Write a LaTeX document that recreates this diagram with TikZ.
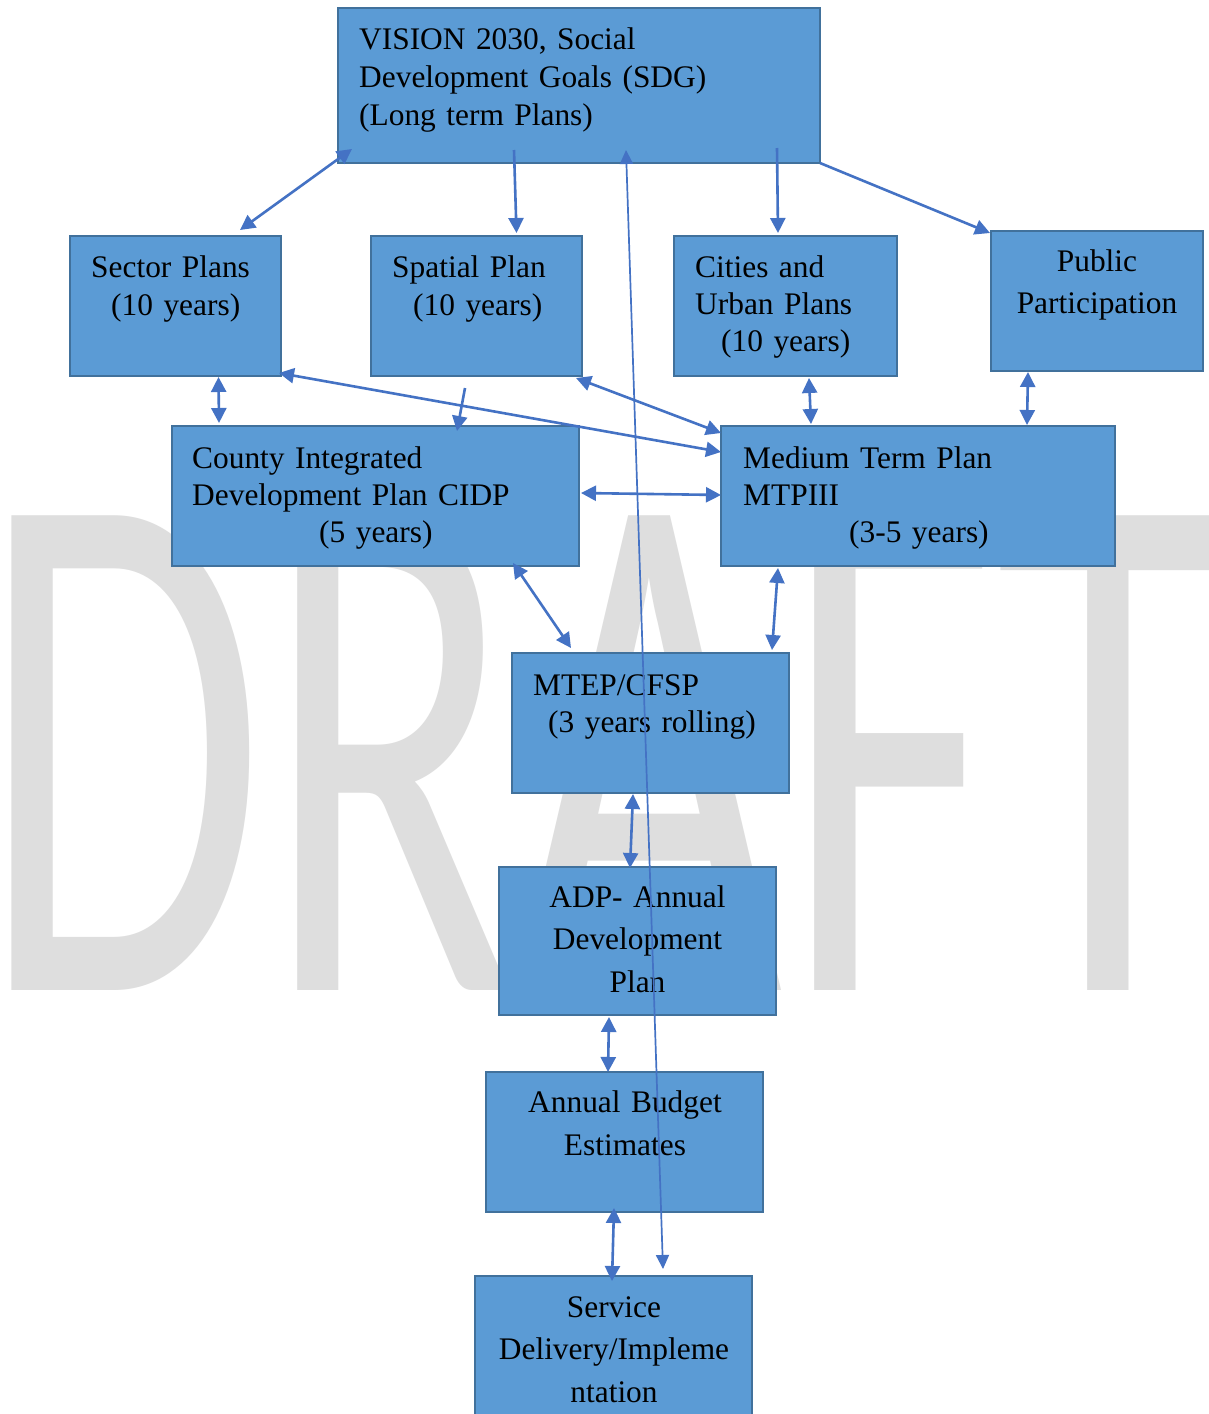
\documentclass[tikz,border=0pt]{standalone}
\usepackage{fontspec}
\setmainfont{Liberation Serif}
\newfontfamily\wmfont{Carlito}
\usetikzlibrary{arrows.meta,calc}
\definecolor{boxfill}{HTML}{5B9BD5}
\definecolor{boxedge}{HTML}{41719C}
\definecolor{arrowc}{HTML}{4472C4}
\definecolor{wmgray}{HTML}{DEDEDE}
\tikzset{
  box/.style={draw=boxedge, fill=boxfill, line width=2pt, inner sep=0pt, outer sep=0pt},
  ltxt/.style={inner sep=0pt, anchor=base west, align=left, text width=#1, font=\fontsize{31.4}{38}\selectfont},
  ctxt/.style={inner sep=0pt, anchor=base, align=center, text width=#1, font=\fontsize{31.4}{38}\selectfont},
  conn/.style={draw=arrowc, line width=2.6pt, -{Triangle[length=15pt,width=15pt]}},
  dconn/.style={draw=arrowc, line width=2.6pt, {Triangle[length=15pt,width=15pt]}-{Triangle[length=15pt,width=15pt]}},
  longconn/.style={draw=arrowc, line width=1.7pt, {Triangle[length=14pt,width=13pt]}-{Triangle[length=14pt,width=13pt]}}
}
\begin{document}
\begin{tikzpicture}[x=1pt,y=-1pt]
\useasboundingbox (0,0) rectangle (1209,1414);
\clip (0,0) rectangle (1209,1414);
\fill[white] (0,0) rectangle (1209,1414);
% watermark
\node[anchor=base west, inner sep=0pt, text=wmgray, font=\wmfont\fontsize{740}{740}\selectfont] (draft) at (-20,990) {\scalebox{0.625}[1]{DRAFT}};
% boxes
\node[box, minimum width=482pt, minimum height=155pt] (vision) at (579,85.5) {};
\node[box, minimum width=211pt, minimum height=140pt] (sector) at (175.5,306) {};
\node[box, minimum width=211pt, minimum height=140pt] (spatial) at (476.5,306) {};
\node[box, minimum width=223pt, minimum height=140pt] (cities) at (785.5,306) {};
\node[box, minimum width=212pt, minimum height=140pt] (public) at (1097,301) {};
\node[box, minimum width=407pt, minimum height=140pt] (cidp) at (375.5,496) {};
\node[box, minimum width=394pt, minimum height=140pt] (mtp) at (918,496) {};
\node[box, minimum width=277pt, minimum height=140pt] (mtep) at (650.5,723) {};
\node[box, minimum width=277pt, minimum height=148pt] (adp) at (637.5,941) {};
\node[box, minimum width=277pt, minimum height=140pt] (budget) at (624.5,1142) {};
\node[box, minimum width=277pt, minimum height=140pt] (service) at (613.5,1346) {};
% texts
\node[ltxt=440pt] (vision-t) at (359,49) {VISION 2030, Social\\Development Goals (SDG)\\(Long term Plans)};
\node[ltxt=190pt] (sector-t) at (91,277) {Sector Plans\\\hspace*{20pt}(10 years)};
\node[ltxt=190pt] (spatial-t) at (392,277) {Spatial Plan\\\hspace*{21pt}(10 years)};
\node[ltxt=200pt, font=\fontsize{31.4}{37}\selectfont] (cities-t) at (695,277) {Cities and\\Urban Plans\\\hspace*{26pt}(10 years)};
\node[ctxt=200pt, font=\fontsize{31.4}{42}\selectfont] (public-t) at (1097,271) {Public\\Participation};
\node[ltxt=380pt, font=\fontsize{31.4}{37}\selectfont] (cidp-t) at (192,468) {County Integrated\\Development Plan CIDP\\\hspace*{127pt}(5 years)};
\node[ltxt=370pt, font=\fontsize{31.4}{37}\selectfont] (mtp-t) at (743,468) {Medium Term Plan\\MTPIII\\\hspace*{106pt}(3-5 years)};
\node[ltxt=250pt, font=\fontsize{31.4}{37}\selectfont] (mtep-t) at (533,695) {MTEP/CFSP\\\hspace*{15pt}(3 years rolling)};
\node[ctxt=260pt, font=\fontsize{31.4}{42.5}\selectfont] (adp-t) at (637.5,907) {ADP- Annual\\Development\\Plan};
\node[ctxt=260pt, font=\fontsize{31.4}{43}\selectfont] (budget-t) at (625,1112) {Annual Budget\\Estimates};
\node[ctxt=270pt, font=\fontsize{31.4}{42.5}\selectfont] (service-t) at (614,1317) {Service\\Delivery/Impleme\\ntation};
% connectors
\draw[dconn] ($(sector.north)+(64.5,-6)$) -- ($(vision.south west)+(14,-14)$);
\draw[conn] ($(vision.south)+(-65,-13)$) -- ($(spatial.north)+(40,-3)$);
\draw[conn] ($(vision.south)+(198,-15)$) -- ($(cities.north)+(-7.5,-3)$);
\draw[conn] (vision.south east) -- ($(public.north west)+(-1,2)$);
\draw[dconn] ($(sector.south)+(43,1)$) -- ($(cidp.north west)+(47,-3)$);
\draw[conn] ($(spatial.south)+(-11.5,12)$) -- ($(cidp.north east)+(-122,5)$);
\draw[dconn] ($(sector.south east)+(-2,-3)$) -- ($(mtp.north west)+(0,26)$);
\draw[dconn] ($(spatial.south east)+(-6,2)$) -- ($(mtp.north west)+(0,7)$);
\draw[dconn] ($(cities.south)+(23.5,2)$) -- ($(mtp.north west)+(90,-2)$);
\draw[dconn] ($(public.south)+(-69,1)$) -- ($(mtp.north east)+(-88,-1)$);
\draw[dconn] ($(cidp.east)+(2,-3)$) -- ($(mtp.west)+(0,-1)$);
\draw[dconn] ($(cidp.south east)+(-66,-3)$) -- ($(mtep.north west)+(59,-5)$);
\draw[dconn] ($(mtp.south west)+(57,2)$) -- ($(mtep.north east)+(-17,-3)$);
\draw[dconn] ($(mtep.south)+(-17.5,1)$) -- ($(adp.north)+(-7.5,1)$);
\draw[dconn] ($(adp.south)+(-28.5,2)$) -- ($(budget.north)+(-16.5,0)$);
\draw[dconn] ($(budget.south)+(-10.5,-4)$) -- ($(service.north)+(-1.5,5)$);
\draw[longconn] ($(vision.south)+(47,-13)$) -- ($(service.north)+(49.5,-7)$);
\end{tikzpicture}
\end{document}
